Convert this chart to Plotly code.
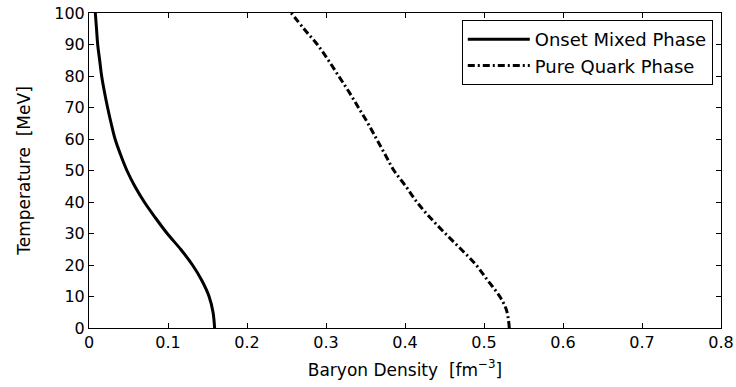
import plotly.graph_objects as go

# Onset of mixed phase
onset_T = [0, 5, 10, 15, 20, 25, 30, 35, 40, 45, 50, 55, 60, 65, 70, 75, 80, 85, 90, 95, 100]
onset_n = [0.159, 0.157, 0.152, 0.143, 0.131, 0.116, 0.099, 0.084, 0.070, 0.058, 0.048, 0.040,
           0.033, 0.028, 0.0235, 0.0195, 0.016, 0.0135, 0.011, 0.0095, 0.008]

# Pure quark phase
quark_T = [0, 2.5, 6, 10, 15, 20, 25, 30, 35, 40, 45, 50, 55, 60, 65, 70, 75, 80, 85, 90, 95, 100]
quark_n = [0.532, 0.531, 0.528, 0.520, 0.505, 0.490, 0.471, 0.451, 0.432, 0.415, 0.401, 0.386,
           0.375, 0.364, 0.353, 0.341, 0.329, 0.316, 0.303, 0.289, 0.272, 0.256]

x_ticks = [0, 0.1, 0.2, 0.3, 0.4, 0.5, 0.6, 0.7, 0.8]
x_tick_labels = ["0", "0.1", "0.2", "0.3", "0.4", "0.5", "0.6", "0.7", "0.8"]
y_ticks = [0, 10, 20, 30, 40, 50, 60, 70, 80, 90, 100]

FONT = "DejaVu Sans"

fig = go.Figure()
fig.add_trace(go.Scatter(x=onset_n, y=onset_T, mode="lines", name="Onset Mixed Phase",
                         line=dict(color="black", width=3, shape="spline")))
fig.add_trace(go.Scatter(x=quark_n, y=quark_T, mode="lines", name="Pure Quark Phase",
                         line=dict(color="black", width=3, shape="spline", dash="7px,3px,2px,3px")))

axis_common = dict(showline=True, linecolor="black", linewidth=1, mirror="ticks",
                   ticks="inside", ticklen=5, tickcolor="black", tickwidth=1,
                   showgrid=False, zeroline=False, automargin=False,
                   tickfont=dict(family=FONT, size=16, color="black"))

fig.update_xaxes(range=[0, 0.8], tickvals=x_ticks, ticktext=x_tick_labels,
                 title=dict(text="Baryon Density  [fm<sup>−3</sup>]",
                            font=dict(family=FONT, size=17, color="black"), standoff=12),
                 **axis_common)
fig.update_yaxes(range=[0, 100], tickvals=y_ticks,
                 title=dict(text="Temperature  [MeV]",
                            font=dict(family=FONT, size=17, color="black"), standoff=19),
                 **axis_common)

fig.update_layout(
    width=736, height=387,
    margin=dict(l=89, r=15, t=13, b=59),
    paper_bgcolor="white", plot_bgcolor="white",
    showlegend=True,
    legend=dict(x=0.987, y=0.978, xanchor="right", yanchor="top",
                bgcolor="white", bordercolor="black", borderwidth=1,
                font=dict(family=FONT, size=18, color="black"),
                tracegroupgap=0, itemwidth=62),
)

fig.write_html("out.html", config={"displayModeBar": False},
               post_script="document.body.style.margin='0';document.body.style.overflow='hidden';")
